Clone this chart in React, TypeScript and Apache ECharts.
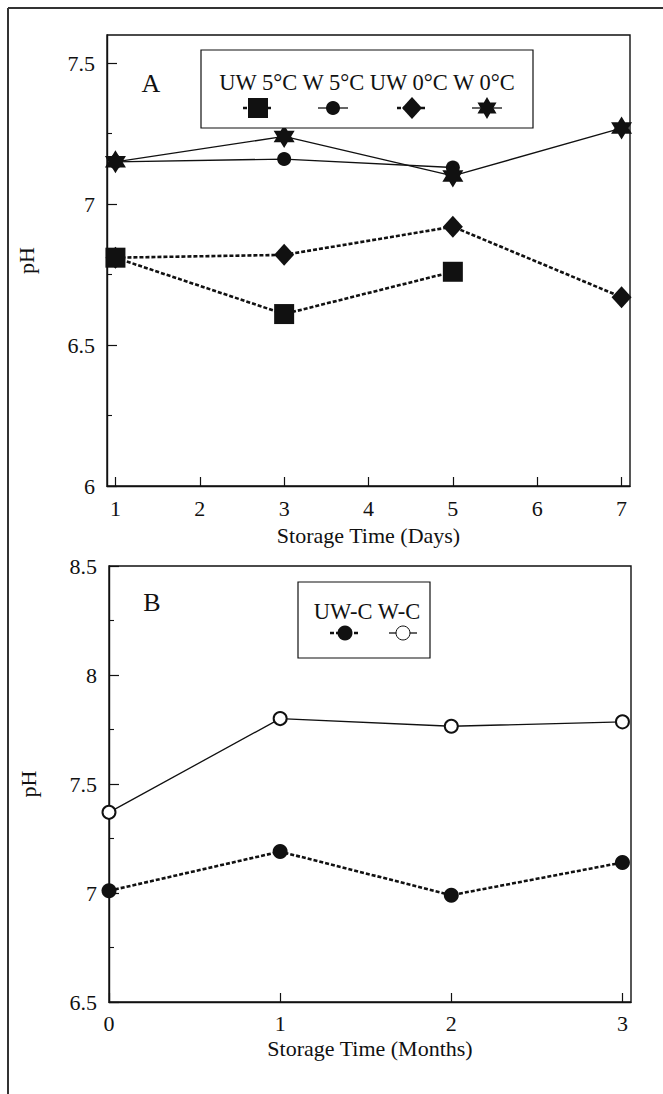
import React, { useEffect, useRef } from "react";
import * as echarts from "echarts";

// ---- Data ----
const daysA = [1, 3, 5, 7];
const uw5 = [6.81, 6.61, 6.76, null];
const w5 = [7.15, 7.16, 7.13, null];
const uw0 = [6.81, 6.82, 6.92, 6.67];
const w0 = [7.15, 7.24, 7.1, 7.27];

const monthsB = [0, 1, 2, 3];
const uwc = [7.01, 7.19, 6.99, 7.14];
const wc = [7.37, 7.8, 7.765, 7.785];

const xTicksA = [1, 2, 3, 4, 5, 6, 7];
const yTicksA = [6, 6.5, 7, 7.5];
const xTicksB = [0, 1, 2, 3];

const legendA = ["UW 5°C", "W 5°C", "UW 0°C", "W 0°C"];
const legendB = ["UW-C", "W-C"];

const FONT = "'Liberation Serif', 'Times New Roman', serif";
const INK = "#111";

const STAR =
  "path://M0,-10 L2.887,-5 L8.66,-5 L5.774,0 L8.66,5 L2.887,5 L0,10 L-2.887,5 L-8.66,5 L-5.774,0 L-8.66,-5 L-2.887,-5 Z";

function pairs(xs: number[], ys: (number | null)[]) {
  const out: number[][] = [];
  ys.forEach((v, i) => {
    if (v !== null && v !== undefined) out.push([xs[i], v]);
  });
  return out;
}

const solid = { color: INK, width: 1.3, type: "solid" as const };
const dashed = { color: INK, width: 2.6, type: [4, 2] as any };

function starPoints(cx: number, cy: number, R: number) {
  const r = R / Math.sqrt(3);
  const pts: number[][] = [];
  for (let k = 0; k < 12; k++) {
    const ang = (-90 + k * 30) * (Math.PI / 180);
    const rad = k % 2 === 0 ? R : r;
    pts.push([cx + rad * Math.cos(ang), cy + rad * Math.sin(ang)]);
  }
  return pts;
}

export default function App() {
  const ref = useRef<HTMLDivElement>(null);

  useEffect(() => {
    if (!ref.current) return;
    const chart = echarts.init(ref.current, undefined, { renderer: "svg" });

    const axisLabelStyle = { color: INK, fontFamily: FONT, fontSize: 22 };
    const nameStyle = { color: INK, fontFamily: FONT, fontSize: 22 };
    const axisLine = { show: true, lineStyle: { color: INK, width: 1.4 } };

    // legend geometry
    const lAy = 108;
    const lAx = [258, 333, 412, 487];
    const lBy = 633;
    const lBx = [345, 403];

    const seg = (cx: number, cy: number, dash: boolean, w = 30) => ({
      type: "line",
      shape: { x1: cx - w / 2, y1: cy, x2: cx + w / 2, y2: cy },
      style: {
        stroke: INK,
        lineWidth: dash ? 2.4 : 1.3,
        lineDash: dash ? [4, 2] : null,
      },
      z: 10,
    });

    const option: any = {
      animation: false,
      backgroundColor: "#fff",
      grid: [
        {
          left: 107,
          top: 35,
          width: 523,
          height: 451,
          show: true,
          borderColor: INK,
          borderWidth: 1.4,
          backgroundColor: "transparent",
        },
        {
          left: 109,
          top: 566,
          width: 522,
          height: 436,
          show: true,
          borderColor: INK,
          borderWidth: 1.4,
          backgroundColor: "transparent",
        },
      ],
      xAxis: [
        {
          type: "value",
          gridIndex: 0,
          min: 0.9,
          max: 7.1,
          name: "Storage Time (Days)",
          nameLocation: "middle",
          nameGap: 38,
          nameTextStyle: nameStyle,
          axisLine,
          axisTick: {
            show: true,
            inside: true,
            length: 9,
            customValues: xTicksA,
            lineStyle: { color: INK, width: 1.2 },
          },
          axisLabel: { ...axisLabelStyle, margin: 11, customValues: xTicksA },
          splitLine: { show: false },
        },
        {
          type: "value",
          gridIndex: 1,
          min: 0,
          max: 3.05,
          name: "Storage Time (Months)",
          nameLocation: "middle",
          nameGap: 35,
          nameTextStyle: nameStyle,
          axisLine,
          axisTick: {
            show: true,
            inside: true,
            length: 9,
            customValues: xTicksB,
            lineStyle: { color: INK, width: 1.2 },
          },
          axisLabel: { ...axisLabelStyle, margin: 10, customValues: xTicksB },
          splitLine: { show: false },
        },
      ],
      yAxis: [
        {
          type: "value",
          gridIndex: 0,
          min: 6,
          max: 7.6,
          interval: 0.5,
          name: "pH",
          nameLocation: "middle",
          nameGap: 70,
          nameTextStyle: nameStyle,
          axisLine,
          axisTick: {
            show: true,
            inside: true,
            length: 10,
            customValues: yTicksA,
            lineStyle: { color: INK, width: 1.2 },
          },
          minorTick: {
            show: true,
            splitNumber: 2,
            length: 5,
            lineStyle: { color: INK, width: 1.1 },
          },
          axisLabel: { ...axisLabelStyle, margin: 12, customValues: yTicksA },
          splitLine: { show: false },
          minorSplitLine: { show: false },
        },
        {
          type: "value",
          gridIndex: 1,
          min: 6.5,
          max: 8.5,
          interval: 0.5,
          name: "pH",
          nameLocation: "middle",
          nameGap: 70,
          nameTextStyle: nameStyle,
          axisLine,
          axisTick: {
            show: true,
            inside: true,
            length: 10,
            lineStyle: { color: INK, width: 1.2 },
          },
          minorTick: {
            show: true,
            splitNumber: 2,
            length: 5,
            lineStyle: { color: INK, width: 1.1 },
          },
          axisLabel: { ...axisLabelStyle, margin: 12 },
          splitLine: { show: false },
          minorSplitLine: { show: false },
        },
      ],
      series: [
        {
          name: legendA[2],
          type: "line",
          xAxisIndex: 0,
          yAxisIndex: 0,
          data: pairs(daysA, uw0),
          symbol: "diamond",
          symbolSize: [20, 22],
          lineStyle: dashed,
          itemStyle: { color: INK },
        },
        {
          name: legendA[0],
          type: "line",
          xAxisIndex: 0,
          yAxisIndex: 0,
          data: pairs(daysA, uw5),
          symbol: "rect",
          symbolSize: 20,
          lineStyle: dashed,
          itemStyle: { color: INK },
        },
        {
          name: legendA[1],
          type: "line",
          xAxisIndex: 0,
          yAxisIndex: 0,
          data: pairs(daysA, w5),
          symbol: "circle",
          symbolSize: 14,
          lineStyle: solid,
          itemStyle: { color: INK },
        },
        {
          name: legendA[3],
          type: "line",
          xAxisIndex: 0,
          yAxisIndex: 0,
          data: pairs(daysA, w0),
          symbol: STAR,
          symbolSize: [21, 23],
          lineStyle: solid,
          itemStyle: { color: INK },
        },
        {
          name: legendB[0],
          type: "line",
          xAxisIndex: 1,
          yAxisIndex: 1,
          data: pairs(monthsB, uwc),
          symbol: "circle",
          symbolSize: 15,
          lineStyle: dashed,
          itemStyle: { color: INK },
        },
        {
          name: legendB[1],
          type: "line",
          xAxisIndex: 1,
          yAxisIndex: 1,
          data: pairs(monthsB, wc),
          symbol: "emptyCircle",
          symbolSize: 13,
          lineStyle: solid,
          itemStyle: { color: INK, borderColor: INK, borderWidth: 1 },
        },
      ],
      graphic: [
        // outer page frame
        {
          type: "line",
          shape: { x1: 8, y1: 8, x2: 663, y2: 8 },
          style: { stroke: "#333", lineWidth: 2 },
        },
        {
          type: "line",
          shape: { x1: 8, y1: 8, x2: 8, y2: 1094 },
          style: { stroke: "#333", lineWidth: 2 },
        },
        // panel letters
        {
          type: "text",
          x: 151,
          y: 83,
          style: {
            text: "A",
            fill: INK,
            font: `26px ${FONT}`,
            textAlign: "center",
            textVerticalAlign: "middle",
          },
        },
        {
          type: "text",
          x: 152,
          y: 602,
          style: {
            text: "B",
            fill: INK,
            font: `26px ${FONT}`,
            textAlign: "center",
            textVerticalAlign: "middle",
          },
        },
        // legend A
        {
          type: "rect",
          shape: { x: 201, y: 50, width: 332, height: 78 },
          style: { fill: "#fff", stroke: INK, lineWidth: 1.2 },
          z: 5,
        },
        {
          type: "text",
          x: 367,
          y: 82,
          z: 10,
          style: {
            text: legendA.join(" "),
            fill: INK,
            font: `22.5px ${FONT}`,
            textAlign: "center",
            textVerticalAlign: "middle",
          },
        },
        seg(lAx[0], lAy, true),
        {
          type: "rect",
          shape: { x: lAx[0] - 10, y: lAy - 10, width: 20, height: 20 },
          style: { fill: INK },
          z: 11,
        },
        seg(lAx[1], lAy, false),
        {
          type: "circle",
          shape: { cx: lAx[1], cy: lAy, r: 7 },
          style: { fill: INK },
          z: 11,
        },
        seg(lAx[2], lAy, true),
        {
          type: "polygon",
          shape: {
            points: [
              [lAx[2], lAy - 11],
              [lAx[2] + 10, lAy],
              [lAx[2], lAy + 11],
              [lAx[2] - 10, lAy],
            ],
          },
          style: { fill: INK },
          z: 11,
        },
        seg(lAx[3], lAy, false),
        {
          type: "polygon",
          shape: { points: starPoints(lAx[3], lAy, 11) },
          style: { fill: INK },
          z: 11,
        },
        // legend B
        {
          type: "rect",
          shape: { x: 298, y: 582, width: 132, height: 76 },
          style: { fill: "#fff", stroke: INK, lineWidth: 1.2 },
          z: 5,
        },
        {
          type: "text",
          x: 367,
          y: 611,
          z: 10,
          style: {
            text: legendB.join(" "),
            fill: INK,
            font: `22.5px ${FONT}`,
            textAlign: "center",
            textVerticalAlign: "middle",
          },
        },
        seg(lBx[0], lBy, true, 30),
        {
          type: "circle",
          shape: { cx: lBx[0], cy: lBy, r: 7.5 },
          style: { fill: INK },
          z: 11,
        },
        seg(lBx[1], lBy, false, 28),
        {
          type: "circle",
          shape: { cx: lBx[1], cy: lBy, r: 7 },
          style: { fill: "#fff", stroke: INK, lineWidth: 1 },
          z: 11,
        },
      ],
    };

    chart.setOption(option);
    return () => chart.dispose();
  }, []);

  return (
    <div
      ref={ref}
      style={{
        position: "absolute",
        left: 0,
        top: 0,
        width: 663,
        height: 1094,
        background: "#fff",
      }}
    />
  );
}
